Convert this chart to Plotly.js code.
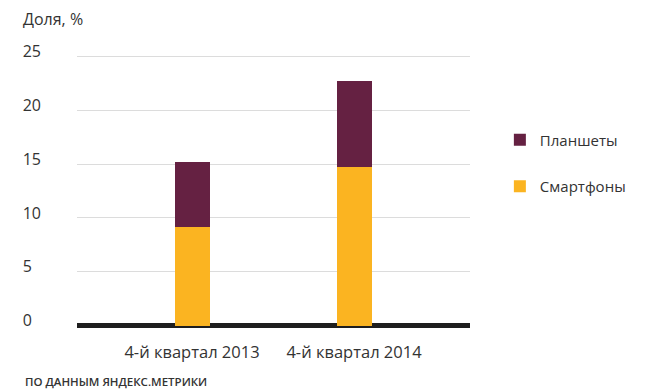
<!DOCTYPE html>
<html><head><meta charset="utf-8">
<script src="https://cdn.plot.ly/plotly-3.0.1.min.js"></script>
<style>html,body{margin:0;padding:0;background:#fff;}#chart{width:652px;height:391px;}</style>
</head><body><div id="chart"></div>
<script>
const categories = ["4-й квартал 2013", "4-й квартал 2014"];
const smartphones = [9.2, 14.7];
const tablets = [6.0, 8.05];
const yTickVals = [0, 5, 10, 15, 20, 25];
const yTickText = ["0\u2007", "5\u2007", "10", "15", "20", "25"];
const seriesNames = ["Смартфоны", "Планшеты"];

const FONT = "'Open Sans', sans-serif";
const traces = [
  {type: 'bar', x: categories, y: smartphones, name: seriesNames[0], legendgroup: 'b', legendrank: 2,
   marker: {color: '#fbb421'}, width: 0.216, hoverinfo: 'none'},
  {type: 'bar', x: categories, y: tablets, name: seriesNames[1], legendgroup: 'a', legendrank: 1,
   marker: {color: '#652142'}, width: 0.216, hoverinfo: 'none'}
];
const layout = {
  width: 652, height: 391,
  margin: {l: 77, r: 182, t: 51, b: 60},
  barmode: 'stack',
  paper_bgcolor: '#fff', plot_bgcolor: '#fff',
  font: {family: FONT, size: 16, color: '#333'},
  title: {text: 'Доля, %', x: 23/652, xref: 'container', xanchor: 'left', y: 0.95, yanchor: 'middle',
          font: {family: FONT, size: 16, color: '#333'}},
  xaxis: {type: 'category', range: [-0.71, 1.716], showgrid: false, zeroline: false,
          showline: false, ticks: '', ticklabelstandoff: 9,
          tickfont: {family: FONT, size: 16.5, color: '#333'}},
  yaxis: {range: [-0.5, 25.5], tickvals: yTickVals, ticktext: yTickText,
          showgrid: true, gridcolor: '#dcdcdc', gridwidth: 1,
          zeroline: true, zerolinecolor: '#1e1e1e', zerolinewidth: 5,
          showline: false, ticks: '', ticklabelstandoff: 35, ticklabelshift: -5,
          tickfont: {family: FONT, size: 16, color: '#333'}},
  legend: {x: 1.076, xanchor: 'left', y: 0.6, yanchor: 'middle', traceorder: 'normal+grouped',
           tracegroupgap: 24, font: {family: FONT, size: 15, color: '#333'}, bgcolor: 'rgba(0,0,0,0)'},
  showlegend: true,
  annotations: [
    {text: 'ПО ДАННЫМ ЯНДЕКС.МЕТРИКИ', xref: 'paper', yref: 'paper', x: -0.138, y: -0.18,
     xanchor: 'left', yanchor: 'middle', showarrow: false,
     font: {family: FONT, size: 11.5, color: '#333', weight: 600}}
  ]
};
Plotly.newPlot('chart', traces, layout, {staticPlot: true});
</script></body></html>
